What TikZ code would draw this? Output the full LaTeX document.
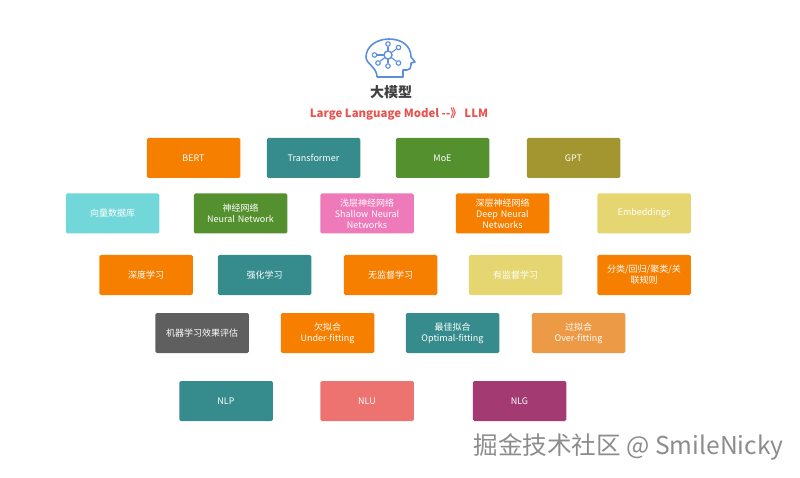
\documentclass[tikz,border=0pt]{standalone}
\usepackage{fontspec}
\setmainfont{Noto Sans CJK SC}
\definecolor{orangebox}{HTML}{F77F00}
\definecolor{tealbox}{HTML}{368C8C}
\definecolor{greenbox}{HTML}{55902F}
\definecolor{olivebox}{HTML}{A3952F}
\definecolor{cyanbox}{HTML}{72D7D9}
\definecolor{pinkbox}{HTML}{EF7AB9}
\definecolor{yellowbox}{HTML}{E6D672}
\definecolor{greybox}{HTML}{5F5F5F}
\definecolor{sandbox}{HTML}{EC9A45}
\definecolor{salmonbox}{HTML}{ED7371}
\definecolor{plumbox}{HTML}{A33A72}
\definecolor{iconblue}{HTML}{5B8FDB}
\definecolor{titlered}{HTML}{E8534F}
\tikzset{
  box/.style={fill=#1,rounded corners=1.5pt,minimum width=93.5pt,minimum height=40pt,
    inner sep=1pt,text width=88pt,align=center,text=white,font=\fontsize{9}{11}\selectfont},
  dot/.style={draw=iconblue,circle,fill=white,line width=1.1pt,inner sep=0pt,minimum size=4.5pt},
  hub/.style={dot,line width=1.4pt,minimum size=8pt}
}

\begin{document}
\begin{tikzpicture}[x=1pt,y=-1pt]

  \useasboundingbox (0,0) rectangle (800,478);

  % head
  \draw [iconblue,line width=1.6pt,line join=round]
    (377,77) -- (403,77) -- (403,70) -- (407,70)
    .. controls (410,70) and (411,68) .. (411,65) -- (411,63) -- (415,62) -- (411,57)
    .. controls (411,46) and (402,39) .. (389,39)
    .. controls (376,39) and (366,47) .. (366,57)
    .. controls (366,64) and (377,67) .. (377,77);

  \foreach \x/\y [count=\i] in {388/44, 398.5/47.5, 374.5/55, 378/63, 388/66, 398.5/63} {
    \node [dot] (spoke\i) at (\x,\y) {};
    \draw [iconblue,line width=1.1pt] (388,55) -- (spoke\i);
  }
  \node [hub] (hub) at (388,55) {};

  \node [font=\fontsize{14}{16}\selectfont\bfseries,text=black!75] (title) at (391,92) {大模型};
  \node [font=\fontsize{11.4}{13}\selectfont\bfseries,text=titlered] (subtitle) at (399,114) {Large Language Model -{}-》 LLM};

  \foreach \x/\y/\c/\t [count=\i] in {
    193.5/158/orangebox/BERT,
    313.5/158/tealbox/Transformer,
    442.5/158/greenbox/MoE,
    573.5/158/olivebox/GPT,
    112.5/213.5/cyanbox/向量数据库,
    240.5/213.5/greenbox/神经网络\\Neural Network,
    367/213.5/pinkbox/浅层神经网络\\Shallow Neural\\Networks,
    502.5/213.5/orangebox/深层神经网络\\Deep Neural\\Networks,
    644/213.5/yellowbox/Embeddings,
    146/275/orangebox/深度学习,
    264.5/275/tealbox/强化学习,
    390.5/275/orangebox/无监督学习,
    515.5/275/yellowbox/有监督学习,
    644/275/orangebox/{分类/回归/聚类/关\\联规则},
    202/333/greybox/机器学习效果评估,
    327.5/333/orangebox/欠拟合\\Under-fitting,
    452.5/333/tealbox/最佳拟合\\Optimal-fitting,
    578.5/333/sandbox/过拟合\\Over-fitting,
    226/401/tealbox/NLP,
    367/401/salmonbox/NLU,
    519.5/401/plumbox/NLG} {
    \node [box=\c] (box\i) at (\x,\y) {\t};
  }

  \node [font=\fontsize{24.6}{28}\selectfont,text=black!45] (mark) at (628.5,447) {掘金技术社区 @ SmileNicky};

\end{tikzpicture}
\end{document}
